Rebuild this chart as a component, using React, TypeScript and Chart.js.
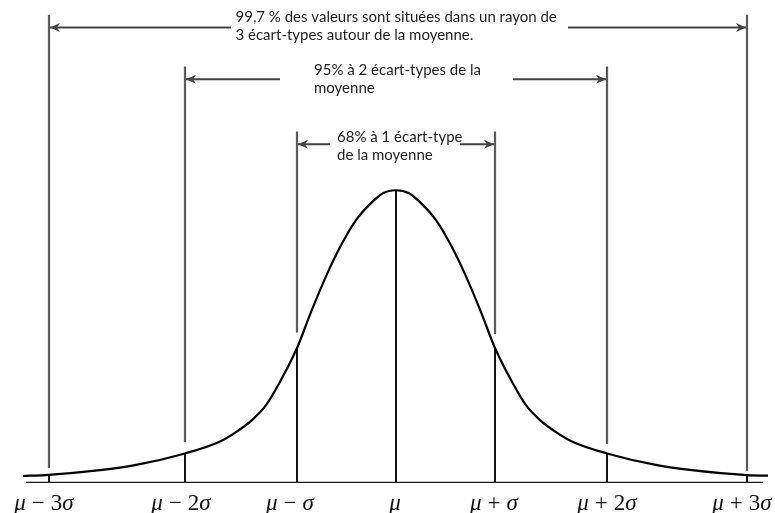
import React, { useEffect, useRef } from 'react';
import { Chart, registerables } from 'chart.js';

Chart.register(...registerables);

// ---- data (x in σ-ish units, y relative to the peak height) ----
const sigmaLabels = ['μ − 3σ', 'μ − 2σ', 'μ − σ', 'μ', 'μ + σ', 'μ + 2σ', 'μ + 3σ'];
const sigmaX = [-3.47, -2.11, -0.99, 0, 0.99, 2.11, 3.51];
const labelX = [-3.52, -2.15, -1.06, -0.01, 0.98, 2.11, 3.46];
const curveAtSigma = [0.028, 0.101, 0.461, 1.0, 0.461, 0.101, 0.027];

const curveX = [-3.73, -3.51, -2.96, -2.61, -2.11, -1.77, -1.6, -1.44, -1.3, -1.15, -0.99, -0.85, -0.7, -0.55, -0.4, -0.25, -0.13, 0, 0.13, 0.25, 0.4, 0.55, 0.7, 0.85, 0.99, 1.15, 1.3, 1.44, 1.6, 1.77, 2.11, 2.61, 2.96, 3.51, 3.72];
const curveY = [0.024, 0.027, 0.044, 0.061, 0.101, 0.14, 0.174, 0.215, 0.266, 0.352, 0.461, 0.584, 0.706, 0.812, 0.898, 0.956, 0.99, 1.0, 0.99, 0.956, 0.898, 0.812, 0.706, 0.584, 0.461, 0.352, 0.266, 0.215, 0.174, 0.14, 0.101, 0.061, 0.044, 0.027, 0.025];

const guideX = [-3.47, -2.11, -0.99, 0.99, 2.11, 3.51];
const guideTop = [1.6, 1.423, 1.201, 1.201, 1.423, 1.6];
const guideBottom = [0.051, 0.14, 0.514, 0.509, 0.133, 0.042];

const baselineX = [-3.7, 3.67];

const arrowY = [1.556, 1.379, 1.157];
const arrowLeftTip = [-3.47, -2.11, -0.99];
const arrowLeftTail = [-1.65, -1.16, -0.66];
const arrowRightTail = [1.72, 1.17, 0.64];
const arrowRightTip = [3.51, 2.11, 0.99];

const noteLines = [
  ['99,7 % des valeurs sont situées dans un rayon de', '3 écart-types autour de la moyenne.'],
  ['95% à 2 écart-types de la', 'moyenne'],
  ['68% à 1 écart-type', 'de la moyenne'],
];
const noteX = [-1.605, -0.82, -0.59];
const noteY = [1.591, 1.409, 1.183];

// ---- helpers ----
type P = { x: number; y: number | null };

function verticalSegments(xs: number[], bottoms: number[], tops: number[]): P[] {
  const out: P[] = [];
  xs.forEach((x, i) => {
    out.push({ x, y: bottoms[i] }, { x, y: tops[i] }, { x, y: null });
  });
  return out;
}

function horizontalSegments(ys: number[], a: number[], b: number[]): P[] {
  const out: P[] = [];
  ys.forEach((y, i) => {
    out.push({ x: a[i], y }, { x: b[i], y }, { x: b[i], y: null });
  });
  return out;
}

const GREEK = new Set(['μ', 'σ']);

function drawMathLabel(ctx: CanvasRenderingContext2D, text: string, cx: number, baseY: number) {
  const size = 23;
  const italic = `italic ${size}px "Liberation Serif", "DejaVu Serif", serif`;
  const upright = `${size}px "Liberation Serif", "DejaVu Serif", serif`;
  const gap = 5;
  const runs: { ch: string; font: string; w: number }[] = [];
  for (const ch of Array.from(text)) {
    if (ch === ' ') {
      runs.push({ ch: '', font: upright, w: gap });
      continue;
    }
    const font = GREEK.has(ch) ? italic : upright;
    ctx.font = font;
    let w = ctx.measureText(ch).width;
    if (ch === '−' || ch === '+') w += 2;
    runs.push({ ch, font, w });
  }
  const total = runs.reduce((s, r) => s + r.w, 0);
  let x = cx - total / 2;
  ctx.fillStyle = '#111';
  ctx.textBaseline = 'alphabetic';
  ctx.textAlign = 'left';
  for (const r of runs) {
    if (r.ch) {
      ctx.font = r.font;
      const extra = r.ch === '−' || r.ch === '+' ? 1 : 0;
      ctx.fillText(r.ch, x + extra, baseY);
    }
    x += r.w;
  }
}

function drawArrowHead(ctx: CanvasRenderingContext2D, tipX: number, y: number, dir: number) {
  const len = 10;
  const half = 4.5;
  ctx.beginPath();
  ctx.moveTo(tipX, y);
  ctx.lineTo(tipX - dir * len, y - half);
  ctx.lineTo(tipX - dir * (len - 3), y);
  ctx.lineTo(tipX - dir * len, y + half);
  ctx.closePath();
  ctx.fillStyle = '#444';
  ctx.fill();
}

const decorPlugin = {
  id: 'decor',
  afterDatasetsDraw(chart: any) {
    const ctx: CanvasRenderingContext2D = chart.ctx;
    const xs = chart.scales.x;
    const ys = chart.scales.y;
    ctx.save();
    arrowY.forEach((yv, i) => {
      const py = ys.getPixelForValue(yv);
      drawArrowHead(ctx, xs.getPixelForValue(arrowLeftTip[i]) + 1, py, -1);
      drawArrowHead(ctx, xs.getPixelForValue(arrowRightTip[i]) - 1, py, 1);
    });
    ctx.fillStyle = '#1e1e1e';
    ctx.font = '15px Lato, "Open Sans", sans-serif';
    ctx.textAlign = 'left';
    ctx.textBaseline = 'middle';
    noteLines.forEach((lines, i) => {
      const px = xs.getPixelForValue(noteX[i]);
      const py = ys.getPixelForValue(noteY[i]);
      lines.forEach((t, j) => ctx.fillText(t, px, py + j * 18));
    });
    sigmaLabels.forEach((lab, i) => {
      drawMathLabel(ctx, lab, xs.getPixelForValue(labelX[i]), chart.chartArea.bottom + 27);
    });
    ctx.restore();
  },
};

export default function App() {
  const ref = useRef<HTMLCanvasElement | null>(null);

  useEffect(() => {
    document.body.style.margin = '0';
    const canvas = ref.current;
    if (!canvas) return;
    const curve = curveX.map((x, i) => ({ x, y: curveY[i] }));
    const chart = new Chart(canvas, {
      type: 'line',
      data: {
        datasets: [
          {
            label: 'curve',
            data: curve,
            borderColor: '#000',
            borderWidth: 2.2,
            pointRadius: 0,
            cubicInterpolationMode: 'monotone',
            fill: false,
            order: 0,
          },
          {
            label: 'baseline',
            data: baselineX.map((x) => ({ x, y: 0 })),
            borderColor: '#1a1a1a',
            borderWidth: 2.5,
            pointRadius: 0,
            order: 1,
          },
          {
            label: 'sigma lines',
            data: verticalSegments(sigmaX, sigmaX.map(() => 0), curveAtSigma),
            borderColor: '#111',
            borderWidth: 2,
            pointRadius: 0,
            spanGaps: false,
            order: 2,
          },
          {
            label: 'guides',
            data: verticalSegments(guideX, guideBottom, guideTop),
            borderColor: '#5a5a5a',
            borderWidth: 2.2,
            pointRadius: 0,
            spanGaps: false,
            order: 3,
          },
          {
            label: 'arrows left',
            data: horizontalSegments(arrowY, arrowLeftTail, arrowLeftTip),
            borderColor: '#444',
            borderWidth: 2,
            pointRadius: 0,
            spanGaps: false,
            order: 4,
          },
          {
            label: 'arrows right',
            data: horizontalSegments(arrowY, arrowRightTail, arrowRightTip),
            borderColor: '#444',
            borderWidth: 2,
            pointRadius: 0,
            spanGaps: false,
            order: 4,
          },
        ] as any,
      },
      options: {
        animation: false,
        responsive: false,
        maintainAspectRatio: false,
        layout: { padding: { left: 20, right: 5, top: 0, bottom: 30 } },
        plugins: { legend: { display: false }, tooltip: { enabled: false } },
        scales: {
          x: { type: 'linear', min: -3.76, max: 3.74, display: false },
          y: { type: 'linear', min: 0, max: 1.65, display: false },
        },
      } as any,
      plugins: [decorPlugin],
    });
    return () => chart.destroy();
  }, []);

  return (
    <div style={{ width: 775, height: 513, background: '#fff' }}>
      <canvas ref={ref} width={775} height={513} style={{ display: 'block' }} />
    </div>
  );
}
